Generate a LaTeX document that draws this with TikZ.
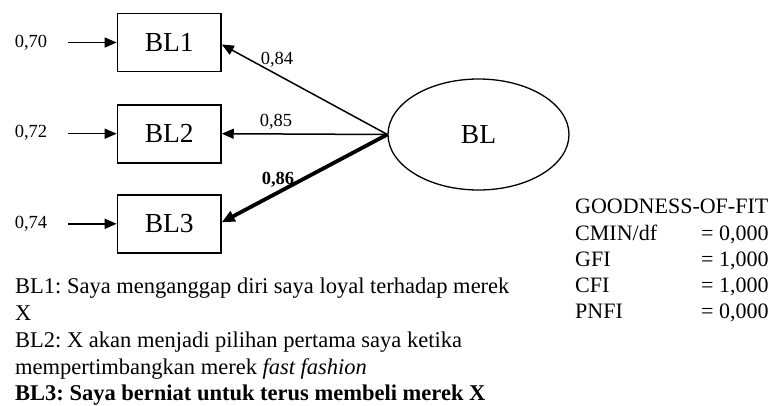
\documentclass[tikz,border=0pt]{standalone}
\usepackage{fontspec}
\setmainfont{Liberation Serif}
\usetikzlibrary{arrows.meta,shapes.geometric}
\begin{document}
\frenchspacing
\begin{tikzpicture}[x=1pt,y=-1pt,
  ind/.style={draw,line width=1.6pt,minimum width=103.5pt,minimum height=58pt,inner sep=0pt,font=\fontsize{27.5}{31}\selectfont},
  lat/.style={ellipse,draw,line width=1.3pt,minimum width=181pt,minimum height=111pt,inner sep=0pt,font=\fontsize{27.5}{31}\selectfont},
  lbl/.style={font=\fontsize{18.5}{20}\selectfont,inner sep=0pt},
  desc/.style={anchor=base west,inner sep=0pt,font=\fontsize{22.5}{27}\selectfont},
  gof/.style={anchor=base west,inner sep=0pt,font=\fontsize{22}{26}\selectfont},
  arr/.style={-{Triangle[length=12pt,width=10pt]},line width=1.5pt},
  thickarr/.style={-{Triangle[length=13pt,width=11pt]},line width=3.8pt},
]
\useasboundingbox (0,0) rectangle (772,405);
% indicators
\node[ind] (bl1) at (169.2,42.5) {BL1};
\node[ind] (bl2) at (169.2,133.7) {BL2};
\node[ind] (bl3) at (169.2,223.8) {BL3};
\node[lat] (bl) at (478.5,134.5) {BL};
% errors
\node[lbl] (e1) at (31,43) {0,70};
\node[lbl] (e2) at (31,133) {0,72};
\node[lbl] (e3) at (31,224) {0,74};
\coordinate (s1) at (68,42.5);
\coordinate (s2) at (68,133.7);
\coordinate (s3) at (68,223.8);
\draw[arr] (s1) -- (bl1.west);
\draw[arr] (s2) -- (bl2.west);
\draw[arr] (s3) -- (bl3.west);
% loadings
\draw[arr] (bl.west) -- ([yshift=-2pt]bl1.east);
\draw[arr] (bl.west) -- (bl2.east);
\draw[thickarr] (bl.west) -- ([yshift=1.5pt]bl3.east);
\node[lbl] (l1) at (277,60) {0,84};
\node[lbl] (l2) at (276,122) {0,85};
\node[lbl,font=\fontsize{18.5}{20}\selectfont\bfseries] (l3) at (278,180) {0,86};
% description
\node[desc] (d1) at (15,293) {BL1: Saya menganggap diri saya loyal terhadap merek};
\node[desc] (d2) at (15,320.5) {X};
\node[desc] (d3) at (15,347.5) {BL2: X akan menjadi pilihan pertama saya ketika};
\node[desc] (d4) at (15,374) {mempertimbangkan merek \textit{fast fashion}};
\node[desc,font=\fontsize{22.5}{27}\selectfont\bfseries] (d5) at (15,400.5) {BL3: Saya berniat untuk terus membeli merek X};
% goodness of fit
\node[gof] (g0) at (575,213) {GOODNESS-OF-FIT};
\node[gof] (g1) at (575,240) {CMIN/df};
\node[gof] (g2) at (575,266) {GFI};
\node[gof] (g3) at (575,292) {CFI};
\node[gof] (g4) at (575,318) {PNFI};
\node[gof] (v1) at (701,240) {=\hspace{5.5pt}0,000};
\node[gof] (v2) at (701,266) {=\hspace{5.5pt}1,000};
\node[gof] (v3) at (701,292) {=\hspace{5.5pt}1,000};
\node[gof] (v4) at (701,318) {=\hspace{5.5pt}0,000};
\end{tikzpicture}
\end{document}
